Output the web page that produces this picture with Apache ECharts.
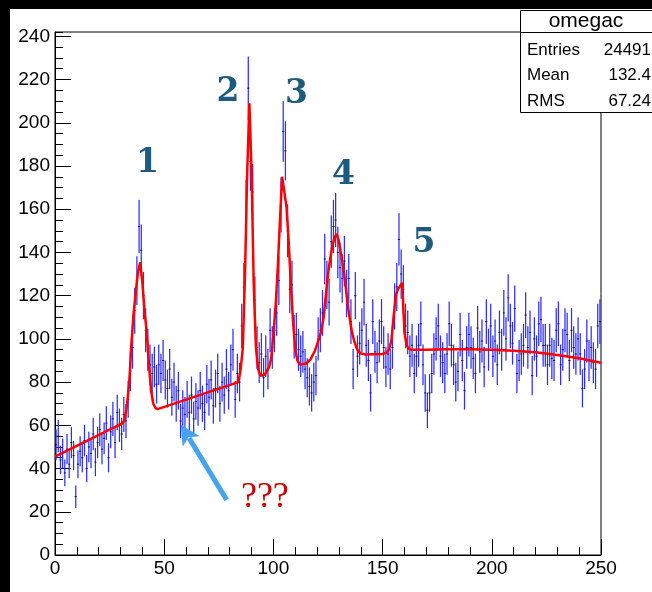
<!DOCTYPE html>
<html><head><meta charset="utf-8">
<script src="https://cdn.jsdelivr.net/npm/echarts@6/dist/echarts.min.js"></script>
<style>
html,body{margin:0;padding:0;background:#000;}
#wrap{position:relative;width:652px;height:592px;background:#000;overflow:hidden;}
#paper{position:absolute;left:10px;top:9px;right:0;bottom:0;background:#fff;}
#chart{position:absolute;left:0;top:0;width:652px;height:592px;}
</style></head><body>
<div id="wrap"><div id="paper"></div><div id="chart"></div></div>
<script>
// histogram "omegac": 250 bins of width 1 from 0 to 250
const binLow = 0;
const binWidth = 1;
const binCounts = [
  51, 55, 44, 47, 38, 49, 42, 52, 46, 27,
  42, 48, 45, 53, 40, 50, 47, 56, 43, 52,
  58, 49, 54, 61, 45, 57, 63, 52, 66, 60,
  56, 65, 62, 72, 85, 96, 113, 127, 152, 141,
  120, 104, 95, 88, 84, 87, 79, 88, 84, 90,
  81, 77, 86, 73, 80, 70, 76, 62, 68, 65,
  72, 66, 74, 63, 71, 68, 76, 70, 66, 79,
  73, 81, 69, 77, 84, 70, 80, 74, 86, 76,
  88, 95, 72, 84, 80, 106, 124, 161, 216, 182,
  168, 118, 96, 89, 93, 82, 92, 86, 104, 96,
  104, 112, 127, 162, 196, 187, 150, 123, 125, 101,
  102, 95, 92, 94, 86, 82, 78, 75, 80, 83,
  100, 104, 112, 137, 125, 117, 145, 152, 155, 140,
  133, 128, 136, 121, 128, 108, 86, 120, 92, 98,
  104, 117, 97, 90, 75, 108, 94, 89, 99, 108,
  96, 87, 93, 86, 96, 115, 124, 146, 130, 123,
  106, 103, 92, 97, 84, 92, 97, 107, 88, 75,
  67, 75, 84, 93, 100, 106, 92, 89, 84, 93,
  107, 97, 88, 80, 85, 102, 90, 76, 96, 102,
  96, 91, 84, 105, 94, 99, 87, 108, 95, 106,
  92, 99, 88, 103, 95, 112, 100, 119, 106, 98,
  114, 84, 90, 93, 97, 111, 96, 103, 83, 100,
  92, 107, 109, 97, 97, 88, 97, 91, 90, 104,
  107, 88, 95, 104, 102, 90, 104, 96, 93, 100,
  93, 77, 86, 99, 90, 96, 89, 86, 106, 108
];
// fitted function (red curve)
const fitX = [0,31,32,33,34,35,36,37,38,39,40,41,42,43,44,45,46,47,84,85,86,87,88,89,90,91,92,93,94,95,96,97,98,99,100,101,102,103,104,105,106,107,108,109,110,111,112,113,115,117,119,120,121,122,123,124,125,126,127,128,129,130,131,132,133,134,135,136,137,138,139,140,142,150,152,153,154,155,156,157,158,159,160,161,162,163,170,180,190,200,210,220,230,240,250];
const fitY = [45.5,61,63,70,80,98,112,122,131,135.5,126,113,103,88,76,70,68,67.5,80,86,96,130,177,209,177,125,96,86,83,83,83.5,85,87,91,102,115,133,155,175,168,161,145,125,108,95,90,88.3,88.2,88.6,90.5,94.5,97.5,100.5,104,110,120,130,137,143,147,148.5,145,139,133,125,116,109,103,99,96,94,93.3,92.8,93,93.8,95.5,99,110,120,123,124.5,126,103,97,95.5,95,95,95.2,95.2,95,94.5,93.8,92.5,91,89];
const xTickValues = [0, 50, 100, 150, 200, 250];
const histName = 'omegac';
const statsLabels = ['Entries', 'Mean', 'RMS'];
const statsValues = ['24491', '132.4', '67.24'];
const peakTexts = ['1', '2', '3', '4', '5'];
const peakAt = [[42.4, 181.4], [79.2, 214], [110.6, 213.2], [132.1, 175.6], [169, 144.2]];
const noteText = '???';
const noteAt = [96.1, 26.4];
const arrowFrom = [78.6, 25.5];
const arrowTo = [57.6, 60.4];

const histData = binCounts.map((c, i) => [binLow + (i + 0.5) * binWidth, c, Math.sqrt(c)]);
const fitData = fitX.map((x, i) => [x, fitY[i]]);

const chart = echarts.init(document.getElementById('chart'), null, {renderer: 'canvas'});
const labelFont = {fontFamily: 'Liberation Sans', fontSize: 19, color: '#000'};
chart.setOption({
  animation: false,
  backgroundColor: 'transparent',
  grid: {left: 55, top: 32, width: 546, height: 523, show: true, borderColor: '#000', borderWidth: 1, backgroundColor: 'transparent'},
  xAxis: {
    type: 'value', min: 0, max: 250, interval: 50,
    axisLine: {show: true, onZero: false, lineStyle: {color: '#000', width: 1}},
    axisTick: {show: true, inside: true, length: 16, lineStyle: {color: '#000', width: 1}},
    minorTick: {show: true, splitNumber: 5, length: 8, lineStyle: {color: '#000', width: 1}},
    splitLine: {show: false},
    axisLabel: Object.assign({margin: 4, customValues: xTickValues}, labelFont)
  },
  yAxis: [{
    type: 'value', min: 0, max: 242, interval: 20,
    axisLine: {show: true, lineStyle: {color: '#000', width: 1}},
    axisTick: {show: true, inside: true, length: 16, lineStyle: {color: '#000', width: 1}},
    splitLine: {show: false},
    axisLabel: Object.assign({margin: 5, showMaxLabel: false}, labelFont)
  }, {
    type: 'value', min: 0, max: 242, interval: 5, position: 'left',
    axisLine: {show: false},
    axisTick: {show: true, inside: true, length: 8, lineStyle: {color: '#000', width: 1}},
    splitLine: {show: false},
    axisLabel: {show: false}
  }],
  series: [{
    type: 'custom', name: histName, data: histData, encode: {x: 0, y: 1},
    xAxisIndex: 0, yAxisIndex: 0, silent: true, z: 2, clip: true,
    renderItem: function (params, api) {
      const x = api.value(0), y = api.value(1), e = api.value(2);
      const t = api.coord([x, y + e]), b = api.coord([x, y - e]);
      const l = api.coord([x - binWidth / 2, y]), r = api.coord([x + binWidth / 2, y]);
      return {type: 'group', children: [
        {type: 'line', shape: {x1: t[0], y1: t[1], x2: b[0], y2: b[1]}, style: {stroke: '#2e2eff', lineWidth: 1.25}},
        {type: 'line', shape: {x1: l[0], y1: l[1], x2: r[0], y2: r[1]}, style: {stroke: '#000022', lineWidth: 1, opacity: 0.8}}
      ]};
    }
  }, {
    type: 'line', name: 'fit', data: fitData, xAxisIndex: 0, yAxisIndex: 0,
    showSymbol: false, symbol: 'none', smooth: false, silent: true, z: 3,
    lineStyle: {color: '#ff0000', width: 2.5}
  }]
});

function px(p) { return chart.convertToPixel({gridIndex: 0}, p); }
const g = [];
peakAt.forEach((p, i) => {
  const q = px(p);
  g.push({type: 'text', x: q[0], y: q[1], z: 50,
    style: {text: peakTexts[i], fontFamily: 'DejaVu Serif', fontWeight: 'bold', fontSize: 33, fill: '#1d5a80', align: 'center', verticalAlign: 'middle'}});
});
const nq = px(noteAt);
g.push({type: 'text', x: nq[0], y: nq[1], z: 50,
  style: {text: noteText, fontFamily: 'Liberation Serif', fontSize: 36, fill: '#cc0000', align: 'center', verticalAlign: 'middle'}});
// arrow
const a0 = px(arrowFrom), a1 = px(arrowTo);
const dx = a1[0] - a0[0], dy = a1[1] - a0[1], L = Math.hypot(dx, dy);
const ux = dx / L, uy = dy / L, nx = -uy, ny = ux;
const hl = 20, hw = 10;
const base = [a1[0] - ux * hl, a1[1] - uy * hl];
g.push({type: 'line', z: 49, shape: {x1: a0[0], y1: a0[1], x2: base[0] + ux * 4, y2: base[1] + uy * 4}, style: {stroke: '#45a3ef', lineWidth: 5}});
g.push({type: 'polygon', z: 49, shape: {points: [
  a1, [base[0] + nx * hw, base[1] + ny * hw], [base[0] + ux * 5, base[1] + uy * 5], [base[0] - nx * hw, base[1] - ny * hw]
]}, style: {fill: '#45a3ef'}});
// stats box
g.push({type: 'rect', z: 60, shape: {x: 520.5, y: 10.5, width: 140, height: 102}, style: {fill: '#fff', stroke: '#000', lineWidth: 1}});
g.push({type: 'line', z: 61, shape: {x1: 520, y1: 32.5, x2: 652, y2: 32.5}, style: {stroke: '#000', lineWidth: 1}});
g.push({type: 'text', z: 62, x: 586, y: 21, style: {text: histName, fontFamily: 'Liberation Sans', fontSize: 21, fill: '#000', align: 'center', verticalAlign: 'middle'}});
statsLabels.forEach((s, i) => {
  const yy = 50 + i * 25.5;
  g.push({type: 'text', z: 62, x: 527, y: yy, style: {text: s, fontFamily: 'Liberation Sans', fontSize: 17, fill: '#000', align: 'left', verticalAlign: 'middle'}});
  g.push({type: 'text', z: 62, x: 651, y: yy, style: {text: statsValues[i], fontFamily: 'Liberation Sans', fontSize: 17, fill: '#000', align: 'right', verticalAlign: 'middle'}});
});
chart.setOption({graphic: g});
</script>
</body></html>
